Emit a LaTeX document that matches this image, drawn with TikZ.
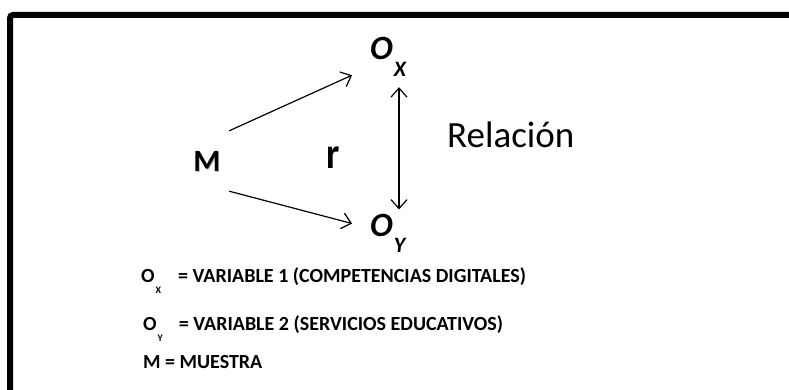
\documentclass[tikz,border=0pt]{standalone}
\usepackage{fontspec}
\setmainfont{Carlito}[BoldFont={Carlito Bold}, ItalicFont={Carlito Italic}, BoldItalicFont={Carlito Bold Italic}]
\usetikzlibrary{arrows.meta, positioning, calc}
\newcommand{\obsub}[1]{\kern1pt\raisebox{-17pt}{\fontsize{22}{22}\selectfont #1}}
\newcommand{\legsub}[1]{\kern1pt\raisebox{-11pt}{\fontsize{10}{10}\selectfont #1}}

\begin{document}
\begin{tikzpicture}[
    x=1pt, y=-1pt,
    % Node styles
    var/.style={font=\bfseries\itshape\fontsize{34}{34}\selectfont, inner sep=0pt, anchor=base west},
    sample/.style={font=\bfseries\fontsize{31}{31}\selectfont, inner sep=0pt, minimum width=44pt, minimum height=60pt},
    legend/.style={font=\bfseries\fontsize{20}{20}\selectfont, inner sep=0pt, anchor=base west},
    frame/.style={line width=6pt, rounded corners=3pt},
    arrow/.style={-{Straight Barb[length=9pt, width=16pt]}, line width=1.2pt},
    dblarrow/.style={{Straight Barb[length=9pt, width=16pt]}-{Straight Barb[length=9pt, width=16pt]}, line width=1.2pt},
]
\clip (0,0) rectangle (789,390);
\useasboundingbox (0,0) rectangle (789,390);

% === Frame (runs off the right and bottom edges) ===
\draw[frame] (10,420) |- (820,15);

% === Sample and variables ===
\node[sample, text=black!25] (mshadow) at (208,162) {M};
\node[sample] (m) at (207,161) {M};
\node[var] (ox) at (370,60) {O\obsub{X}};
\node[var] (oy) at (370,236) {O\obsub{Y}};

% === Relation ===
\node[font=\bfseries\fontsize{44}{44}\selectfont, xscale=0.85, inner sep=0pt, anchor=base] (r) at (333,168) {r};
\node[font=\fontsize{37}{37}\selectfont, inner sep=0pt, anchor=base west] (rel) at (447,148) {Relación};

% === Arrows ===
\draw[arrow] (m.north east) -- ($(ox.south west)+(-18,-2)$);
\draw[arrow] (m.south east) -- ($(oy.north west)+(-18,10)$);
\draw[dblarrow] ($(ox.south west)+(29,10)$) -- ($(oy.north west)+(29,-4)$);

% === Legend ===
\node[legend] (legx) at (141,282) {O\legsub{X}\hspace{17pt}= VARIABLE 1 (COMPETENCIAS DIGITALES)};
\node[legend] (legy) at (143,330) {O\legsub{Y}\hspace{16pt}= VARIABLE 2 (SERVICIOS EDUCATIVOS)};
\node[legend] (legm) at (143,368) {M = MUESTRA};

\end{tikzpicture}
\end{document}
